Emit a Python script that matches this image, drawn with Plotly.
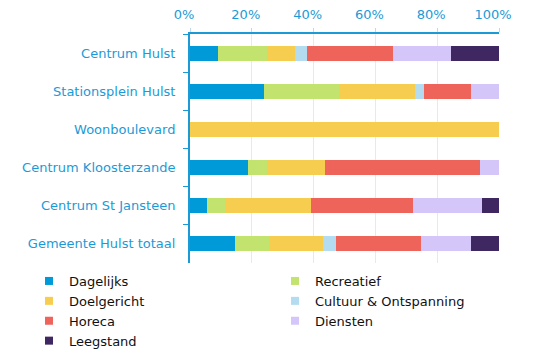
import plotly.graph_objects as go

categories = ["Centrum Hulst", "Stationsplein Hulst", "Woonboulevard",
              "Centrum Kloosterzande", "Centrum St Jansteen", "Gemeente Hulst totaal"]

series_names = ["Dagelijks", "Recreatief", "Doelgericht", "Cultuur & Ontspanning",
                "Horeca", "Diensten", "Leegstand"]

dagelijks = [8.9, 24.1, 0, 18.75, 5.6, 14.7]
recreatief = [16.1, 24.2, 0, 6.25, 5.6, 10.9]
doelgericht = [8.9, 24.5, 100, 18.75, 27.8, 17.3]
cultuur = [3.9, 2.9, 0, 0, 0, 4.2]
horeca = [27.9, 15.3, 0, 50.0, 33.3, 27.6]
diensten = [18.8, 9.0, 0, 6.25, 22.2, 16.2]
leegstand = [15.5, 0, 0, 0, 5.5, 9.1]

colors = ["#009ad8", "#c2e36d", "#f7cd4f", "#b3dcf0", "#ee635a", "#d5c6f9", "#3f2762"]
legend_column = ["legend", "legend2", "legend", "legend2", "legend", "legend2", "legend"]

tick_vals = [0, 20, 40, 60, 80, 100]
tick_text = ["0%", "20%", "40%", "60%", "80%", "100%"]

blue = "#1b9ad6"
FONT = "DejaVu Sans, Liberation Sans, Arial, sans-serif"

fig = go.Figure()
for name, vals, col in zip(series_names,
                           [dagelijks, recreatief, doelgericht, cultuur, horeca, diensten, leegstand],
                           colors):
    fig.add_trace(go.Bar(y=categories, x=vals, name=name, orientation="h",
                         marker=dict(color=col, line=dict(width=0)), showlegend=False))

# legend-only swatches (small squares), split into two columns
for name, col, lg in zip(series_names, colors, legend_column):
    fig.add_trace(go.Scatter(x=[None], y=[None], mode="markers", name=name,
                             marker=dict(symbol="square", size=8, color=col),
                             legend=lg, showlegend=True, hoverinfo="skip"))

legend_common = dict(orientation="v", xref="container", yref="container",
                     xanchor="left", yanchor="top", traceorder="normal",
                     font=dict(family=FONT, size=13, color="#111111"),
                     itemwidth=30, tracegroupgap=0, bgcolor="rgba(0,0,0,0)")

fig.update_layout(
    barmode="stack",
    bargap=0.61,
    width=535, height=358,
    margin=dict(l=190, r=36, t=34, b=95, autoexpand=False),
    plot_bgcolor="white", paper_bgcolor="white",
    font=dict(family=FONT, size=13, color="#222222"),
    xaxis=dict(side="top", range=[0, 100], tickvals=tick_vals, ticktext=tick_text,
               tickfont=dict(size=13, color=blue), showgrid=True, gridcolor="#e3eaf2",
               gridwidth=1, showline=True, linecolor=blue, linewidth=2,
               ticks="outside", ticklen=4, tickcolor="#bcd9ea", zeroline=False,
               ticklabelshift=-6, ticklabelstandoff=4),
    yaxis=dict(autorange="reversed", showline=True, linecolor=blue, linewidth=2,
               ticks="outside", tickson="boundaries", ticklen=5, tickcolor=blue,
               tickfont=dict(size=13, color=blue), showgrid=False,
               ticklabelstandoff=10),
    legend=dict(x=29 / 535, y=(358 - 266) / 358, **legend_common),
    legend2=dict(x=275 / 535, y=(358 - 266) / 358, **legend_common),
    showlegend=True,
)

fig.write_html("out.html", post_script="document.body.style.margin='0';",
               config={"displayModeBar": False})
